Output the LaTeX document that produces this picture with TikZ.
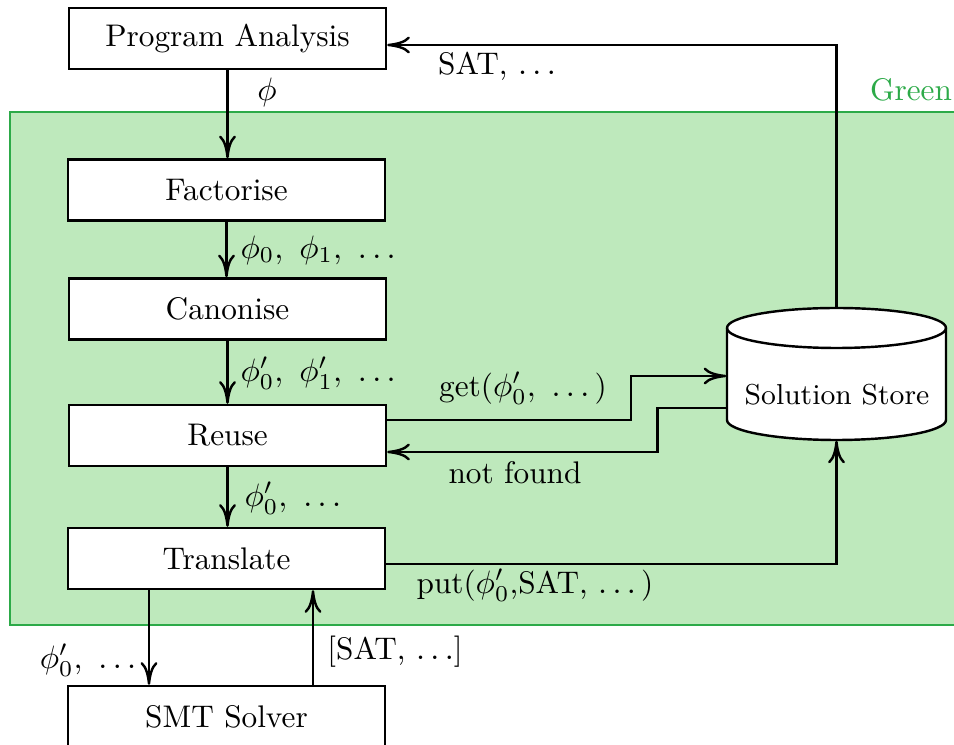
\documentclass[tikz,border=0pt]{standalone}
\usetikzlibrary{arrows.meta,calc}
\def\pxu{0.3086pt}
\definecolor{greenfill}{RGB}{190,233,188}
\definecolor{greenline}{RGB}{44,170,72}
\begin{document}
\begin{tikzpicture}[x=\pxu,y=-\pxu,
  every node/.style={font=\fontsize{9.65pt}{11.6pt}\selectfont},
  box/.style={draw, fill=white, line width=0.75pt, minimum width=317*\pxu, minimum height=61*\pxu, inner sep=0pt},
  conn/.style={line width=0.75pt, -{To[length=7pt,width=5.2pt]}},
  lbl/.style={inner sep=0pt}]
\useasboundingbox (0,0) rectangle (954,745);
% Green region
\fill[greenfill] (10,112) rectangle (962,625);
\draw[greenline, line width=0.7pt] (962,112) -- (10,112) -- (10,625) -- (962,625);
\node[lbl, text=greenline] (green) at (911,90) {Green};
% boxes
\node[box] (pa) at (227.5,38.5) {Program Analysis};
\node[box] (fac) at (226.5,190) {Factorise};
\node[box] (can) at (227.5,309) {Canonise};
\node[box] (reuse) at (227.5,435.5) {Reuse};
\node[box] (trans) at (226.5,558.5) {Translate};
\node[box] (smt) at (226.5,716.5) {SMT Solver};
% solution store (cylinder)
\node[minimum width=219*\pxu, minimum height=132*\pxu, inner sep=0pt] (store) at (836.5,374) {};
\draw[fill=white, line width=0.75pt] (727,328) -- (727,420)
  arc[start angle=180,end angle=0,x radius=109.5,y radius=20] -- (946,328)
  arc[start angle=0,end angle=-180,x radius=109.5,y radius=20] -- cycle;
\draw[line width=0.75pt] (727,328) arc[start angle=180,end angle=0,x radius=109.5,y radius=20];
\node[lbl, font=\fontsize{8.9pt}{10.7pt}\selectfont] (storetext) at (837,395) {Solution Store};
% connectors
\draw[conn] (pa.south) -- (pa.south |- fac.north);
\draw[conn] (fac.south) -- (fac.south |- can.north);
\draw[conn] (can.south) -- (can.south |- reuse.north);
\draw[conn] (reuse.south) -- (reuse.south |- trans.north);
\draw[conn] ($(reuse.east)+(0,-15.5)$) -- ++(244,0) |- ($(store.west)+(0,2)$);
\draw[conn] ($(store.west)+(0,34)$) -- ++(-69,0) |- ($(reuse.east)+(0,16.5)$);
\draw[conn] ($(trans.east)+(0,5.5)$) -| (store.south);
\draw[conn] (store.north) |- ($(pa.east)+(0,6.5)$);
\draw[conn] ($(trans.south)+(-77.5,0)$) -- ($(smt.north)+(-77.5,0)$);
\draw[conn] ($(smt.north)+(86.5,0)$) -- ($(trans.south)+(86.5,0)$);
% labels
\node[lbl] (lphi) at (267,92) {$\phi$};
\node[lbl] (lsat) at (497,66) {SAT, $\ldots$};
\node[lbl, anchor=west] (lfac) at (240,250) {$\phi_0,\ \phi_1,\ \ldots$};
\node[lbl, anchor=west] (lcan) at (240,373) {$\phi'_0,\ \phi'_1,\ \ldots$};
\node[lbl, anchor=west] (lreu) at (244,498) {$\phi'_0,\ \ldots$};
\node[lbl] (lget) at (523,388) {get($\phi'_0,\ \ldots$\,)};
\node[lbl] (lnf) at (515,473) {not found};
\node[lbl] (lput) at (535,585) {put($\phi'_0$,SAT, $\ldots$\,)};
\node[lbl] (lsmtin) at (88,660) {$\phi'_0,\ \ldots$};
\node[lbl] (lsmtout) at (395,652) {[SAT, $\ldots$]};
\end{tikzpicture}
\end{document}
